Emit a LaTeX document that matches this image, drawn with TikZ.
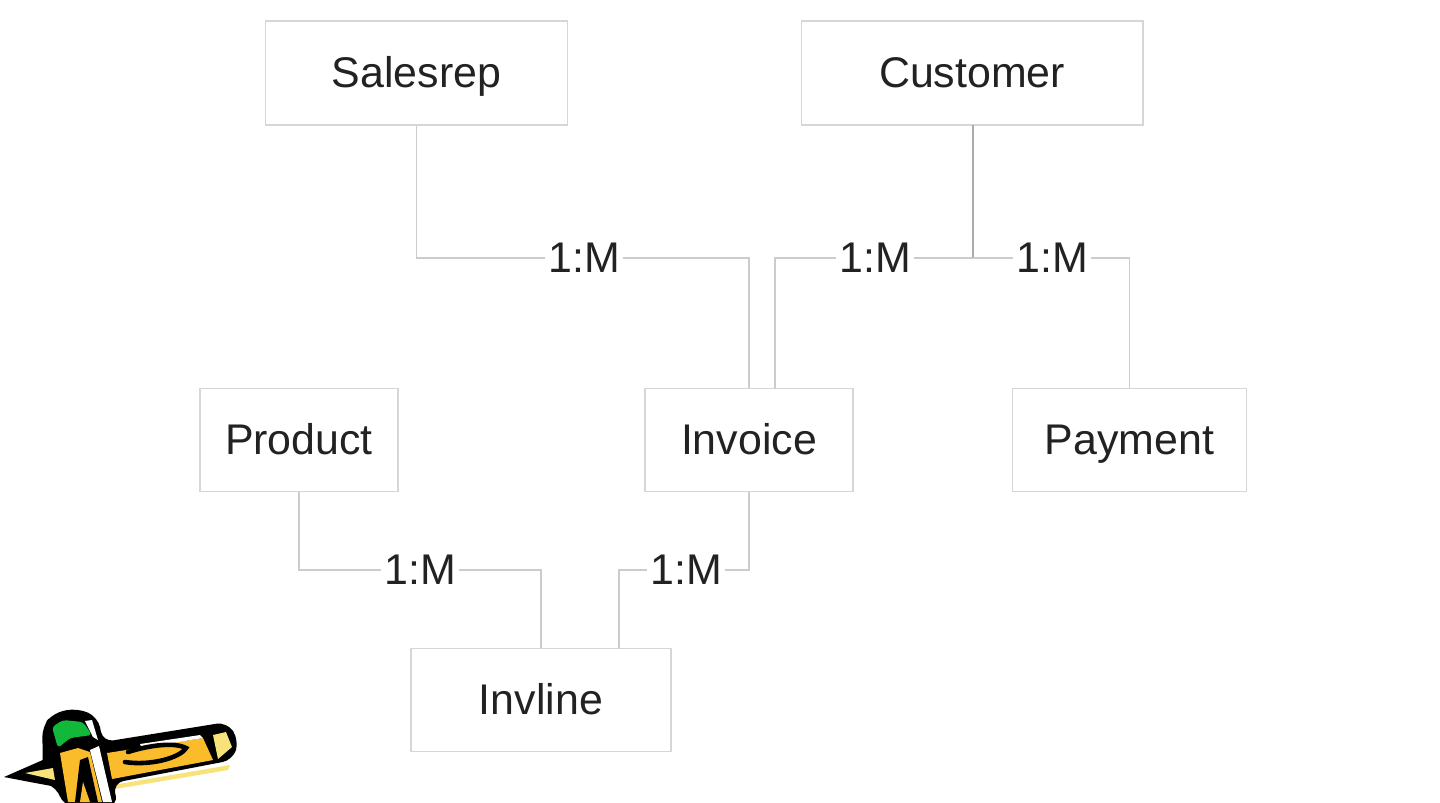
\documentclass[tikz,border=0pt]{standalone}
\usepackage{fontspec}
\setmainfont{Liberation Sans}
\definecolor{boxline}{HTML}{D6D6D6}
\definecolor{linkline}{HTML}{CCCCCC}
\definecolor{labeltext}{HTML}{222222}
\definecolor{pencilyellow}{HTML}{FBBC2C}
\definecolor{pencilcream}{HTML}{F8E27A}
\definecolor{pencilgreen}{HTML}{12B83A}
\tikzset{
    entity/.style={draw=boxline, line width=0.5pt, text=labeltext, font=\fontsize{12.2}{14}\selectfont, inner sep=0pt, text height=9.5pt, text depth=1pt},
    ratio/.style={fill=white, text=labeltext, font=\fontsize{12.2}{14}\selectfont, inner sep=1pt, inner xsep=0.8pt},
    link/.style={draw=linkline, line width=0.5pt}
}
\begin{document}
\begin{tikzpicture}[x=0.01cm, y=-0.01cm]
    \useasboundingbox (0,0) rectangle (1440,802);

    \node[entity, minimum width=3.02cm, minimum height=1.04cm] (salesrep) at (416.5,73) {Salesrep};
    \node[entity, minimum width=3.41cm, minimum height=1.04cm] (customer) at (972,73)   {Customer};
    \node[entity, minimum width=1.98cm, minimum height=1.03cm] (product)  at (299,440)  {Product};
    \node[entity, minimum width=2.08cm, minimum height=1.03cm] (invoice)  at (749,440)  {Invoice};
    \node[entity, minimum width=2.34cm, minimum height=1.03cm] (payment)  at (1129.5,440) {Payment};
    \node[entity, minimum width=2.60cm, minimum height=1.03cm] (invline)  at (541,700)  {Invline};

    \node[ratio] (salesinv) at (584,258) {1:M};
    \node[ratio] (custinv)  at (875,258) {1:M};
    \node[ratio] (custpay)  at (1052,258) {1:M};
    \node[ratio] (prodline) at (420,570) {1:M};
    \node[ratio] (invlines) at (686,570) {1:M};

    \coordinate (custjoin) at (973,258);
    \coordinate (custtop)  at (973,125);
    \coordinate (invtop)   at (775,388.5);
    \coordinate (linetop)  at (619,648.5);

    \draw[link] (salesrep.south) |- (salesinv);
    \draw[link] (salesinv) -| (invoice.north);
    \draw[link] (invtop) |- (custinv);
    \draw[link] (custinv) -- (custjoin);
    \draw[link, draw=gray!65] (custtop) -- (custjoin);
    \draw[link] (custjoin) -- (custpay);
    \draw[link] (custpay) -| (payment.north);
    \draw[link] (product.south) |- (prodline);
    \draw[link] (prodline) -| (invline.north);
    \draw[link] (linetop) |- (invlines);
    \draw[link] (invlines) -| (invoice.south);

    % pencil
    \begin{scope}
        \clip (0,690) rectangle (260,802);
        \fill[pencilcream] (113,785) -- (230,765) -- (228,770) -- (115,789) -- cycle;
        \fill[black, rounded corners=3pt] (43,760) -- (42,727) -- (53,713) -- (77,708) -- (98,717) -- (103,742)
            -- (227,722) -- (239,740) -- (233,760) -- (113,783) -- (118,806) -- (63,806) -- (57,787) -- (40,782) -- cycle;
        \fill[black] (4,777) -- (45,759) -- (57,787) -- (30,782) -- cycle;
        \fill[pencilyellow] (107,753) -- (203,738) -- (213,760) -- (112,779) -- cycle;
        \fill[white] (140,744) -- (200,735) -- (203,738) -- (142,748) -- cycle;
        \fill[pencilcream] (213,735) -- (226,732) -- (232,747) -- (218,759) -- cycle;
        \fill[pencilcream] (25,773) -- (53,768) -- (55,780) -- cycle;
        \fill[pencilgreen, rounded corners=1pt] (52,727) -- (63,720) -- (83,722) -- (92,735) -- (70,738) -- (58,748) -- cycle;
        \fill[white] (85,721) -- (92,720) -- (98,740) -- (93,737) -- cycle;
        \fill[pencilyellow] (60,753) -- (78,748) -- (90,752) -- (102,802) -- (68,802) -- cycle;
        \fill[white] (90,750) -- (99,746) -- (112,802) -- (103,802) -- cycle;
        \fill[black] (75,802) -- (80,760) -- (88,757) -- (98,802) -- cycle;
        \fill[pencilyellow] (83,782) -- (90,802) -- (80,802) -- cycle;
        \draw[line width=1.3pt, line cap=round] (128,752) .. controls (150,745) and (175,742) .. (186,748) .. controls (180,758) and (150,766) .. (125,762);
    \end{scope}
\end{tikzpicture}
\end{document}
